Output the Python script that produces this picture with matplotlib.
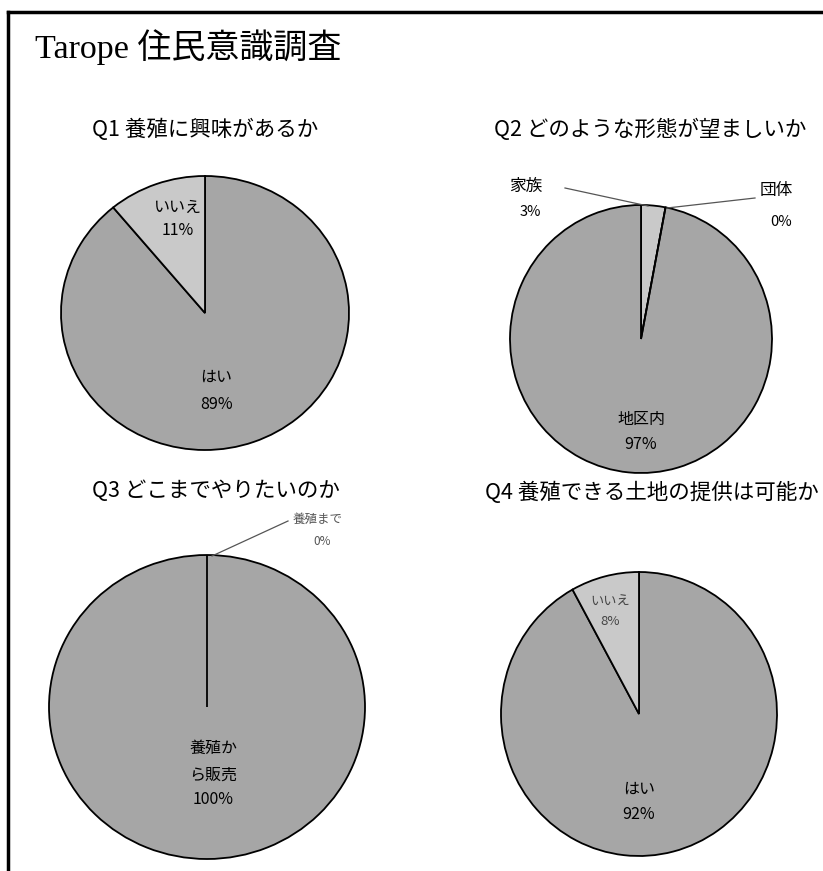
import matplotlib
matplotlib.use("Agg")
import matplotlib.pyplot as plt
from matplotlib.lines import Line2D

W, H = 823, 871
DPI = 100

JP = ["Noto Sans CJK JP", "DejaVu Sans"]
SERIF_JP = ["Liberation Serif", "Noto Sans CJK JP"]

# Survey answers
title = "Tarope 住民意識調査"

q1_title = "Q1 養殖に興味があるか"
q1_labels = ["はい", "いいえ"]
q1_values = [89, 11]

q2_title = "Q2 どのような形態が望ましいか"
q2_labels = ["家族", "団体", "地区内"]
q2_values = [3, 0, 97]

q3_title = "Q3 どこまでやりたいのか"
q3_labels = ["養殖まで", "養殖から販売"]
q3_values = [0, 100]

q4_title = "Q4 養殖できる土地の提供は可能か"
q4_labels = ["はい", "いいえ"]
q4_values = [92, 8]

MAIN = "#a6a6a6"
LIGHT = "#c9c9c9"

fig = plt.figure(figsize=(W / DPI, H / DPI), dpi=DPI)
fig.patch.set_facecolor("white")


def px_axes(cx, cy, a, b):
    """Axes whose [-1, 1] box covers an ellipse centred at pixel (cx, cy)."""
    left = (cx - a) / W
    bottom = 1 - (cy + b) / H
    return fig.add_axes([left, bottom, 2 * a / W, 2 * b / H])


def pie(ax, values, colors):
    wedges, _ = ax.pie(values, colors=colors, startangle=90, counterclock=False,
                       radius=1, wedgeprops=dict(edgecolor="black", linewidth=1.3))
    for w, v in zip(wedges, values):
        w.set_clip_on(False)
        # empty slices still show their radial edge above the others
        if v == 0:
            w.set_zorder(5)
    ax.set_xlim(-1, 1)
    ax.set_ylim(-1, 1)
    ax.set_aspect("auto")
    ax.axis("off")
    return wedges


def ftext(x, y, s, size, **kw):
    fig.text(x / W, 1 - y / H, s, fontsize=size, family=JP, ha="center",
             va="center", **kw)


def leader(x0, y0, x1, y1):
    fig.add_artist(Line2D([x0 / W, x1 / W], [1 - y0 / H, 1 - y1 / H], color="#555555",
                          lw=0.9, transform=fig.transFigure))


def label(ax, x, y, s, size=11.5, **kw):
    ax.text(x, y, s, fontsize=size, family=JP, ha="center", va="center", **kw)


# Frame lines at top and left
fig.add_artist(Line2D([8 / W, 1], [1 - 12 / H, 1 - 12 / H], color="black", lw=2.5,
                      transform=fig.transFigure))
fig.add_artist(Line2D([8 / W, 8 / W], [0, 1 - 12 / H], color="black", lw=2.5,
                      transform=fig.transFigure))

# Main title
fig.text(35 / W, 1 - 47 / H, title, fontsize=24.5, family=SERIF_JP, ha="left", va="center")

# Chart titles
ftext(205, 130, q1_title, 15.5)
ftext(650, 130, q2_title, 15.5)
ftext(216, 491, q3_title, 15.5)
ftext(652, 493, q4_title, 15.5)

# Q1
ax1 = px_axes(205, 313, 144, 137)
pie(ax1, q1_values, [MAIN, LIGHT])
label(ax1, -0.19, 0.77, q1_labels[1])
label(ax1, -0.19, 0.60, f"{q1_values[1]}%")
label(ax1, 0.08, -0.47, q1_labels[0])
label(ax1, 0.08, -0.67, f"{q1_values[0]}%")

# Q2
ax2 = px_axes(641, 339, 131, 134)
pie(ax2, q2_values, [LIGHT, LIGHT, MAIN])
label(ax2, 0.0, -0.60, q2_labels[2])
label(ax2, 0.0, -0.79, f"{q2_values[2]}%")
ftext(526, 186, q2_labels[0], 12)
ftext(530, 212, f"{q2_values[0]}%", 10.5)
ftext(776, 190, q2_labels[1], 12)
ftext(781, 222, f"{q2_values[1]}%", 10.5)
leader(565, 188, 648, 206)
leader(755, 198, 667, 208)

# Q3
ax3 = px_axes(207, 707, 158, 152)
pie(ax3, q3_values, [LIGHT, MAIN])
label(ax3, 0.04, -0.27, "養殖か")
label(ax3, 0.04, -0.45, "ら販売")
label(ax3, 0.04, -0.61, f"{q3_values[1]}%")
ftext(318, 519, q3_labels[0], 9, color="#555555")
ftext(322, 541, f"{q3_values[0]}%", 8.5, color="#555555")
leader(212, 556, 288, 521)

# Q4
ax4 = px_axes(639, 714, 138, 142)
pie(ax4, q4_values, [MAIN, LIGHT])
label(ax4, -0.21, 0.79, q4_labels[1], size=9.5, color="#444444")
label(ax4, -0.21, 0.65, f"{q4_values[1]}%", size=9.5, color="#444444")
label(ax4, 0.0, -0.53, q4_labels[0])
label(ax4, 0.0, -0.71, f"{q4_values[0]}%")

fig.savefig("out.png", dpi=DPI, facecolor="white")
